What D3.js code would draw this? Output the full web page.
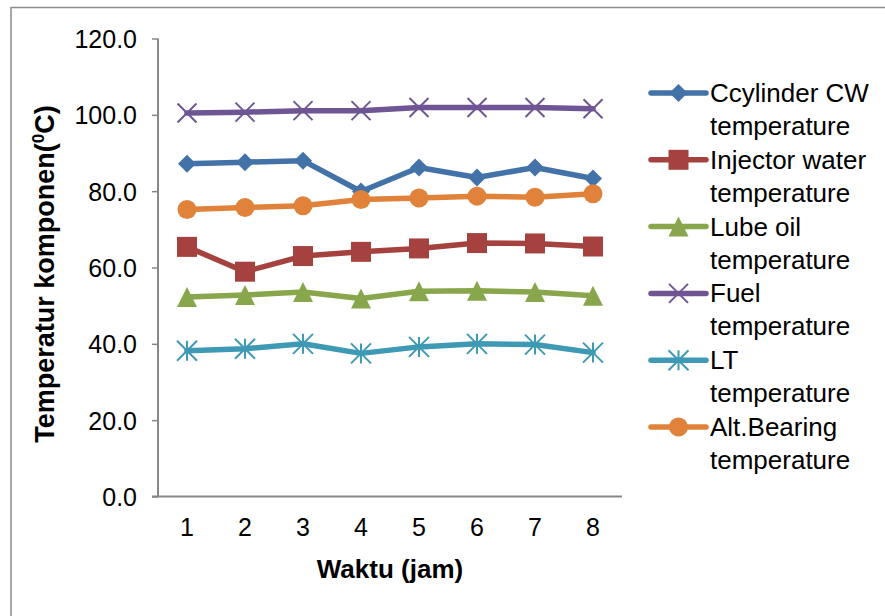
<!DOCTYPE html>
<html>
<head>
<meta charset="utf-8">
<script src="https://cdn.jsdelivr.net/npm/d3@7"></script>
<style>
  body { margin: 0; background: #fff; }
  text { font-family: "Liberation Sans", Arial, sans-serif; fill: #000; }
</style>
</head>
<body>
<script>
const hours = [1, 2, 3, 4, 5, 6, 7, 8];
const yTicks = [0, 20, 40, 60, 80, 100, 120];

const cylinderCW = [87.2, 87.6, 88.0, 79.9, 86.2, 83.6, 86.2, 83.3];
const injectorWater = [65.4, 58.9, 63.0, 64.1, 65.0, 66.4, 66.3, 65.5];
const lubeOil = [52.3, 52.8, 53.6, 51.9, 53.8, 53.9, 53.6, 52.6];
const fuel = [100.5, 100.7, 101.1, 101.1, 101.9, 101.9, 101.9, 101.6];
const ltTemp = [38.2, 38.7, 40.0, 37.5, 39.2, 40.0, 39.8, 37.7];
const altBearing = [75.2, 75.7, 76.2, 77.8, 78.2, 78.7, 78.4, 79.3];

const seriesNames = [
    ["Ccylinder CW", "temperature"],
    ["Injector water", "temperature"],
    ["Lube oil", "temperature"],
    ["Fuel", "temperature"],
    ["LT", "temperature"],
    ["Alt.Bearing", "temperature"]
];
const seriesColors = ["#4372a8", "#a5423f", "#88a64b", "#6f5593", "#3e99b4", "#e0823a"];
const seriesMarkers = ["diamond", "square", "triangle", "x", "star", "circle"];
const seriesValues = [cylinderCW, injectorWater, lubeOil, fuel, ltTemp, altBearing];

const width = 885, height = 616;
const svg = d3.select("body").append("svg").attr("width", width).attr("height", height);

// outer chart border (runs off the right/bottom of the picture)
svg.append("rect")
    .attr("x", 11).attr("y", 7.5)
    .attr("width", 900).attr("height", 640)
    .attr("fill", "none").attr("stroke", "#8c8c8c").attr("stroke-width", 1.5);

const x = d3.scaleBand().domain(hours).range([158, 622]);
const y = d3.scaleLinear().domain([0, 120]).range([496.5, 38.5]);
const cx = d => x(d) + x.bandwidth() / 2;

// y axis
const yAxis = svg.append("g")
    .attr("transform", "translate(158,0)")
    .call(d3.axisLeft(y).tickValues(yTicks).tickSize(6).tickPadding(15).tickFormat(d3.format(".1f")));
yAxis.selectAll("text").attr("font-size", 25).style("font-family", "Liberation Sans, Arial, sans-serif").attr("dy", "0.36em");
yAxis.selectAll("line").attr("stroke", "#888").attr("stroke-width", 1.5);
yAxis.select(".domain").attr("stroke", "#888").attr("stroke-width", 2).attr("d", "M0,38.5V496.5");

// x axis
const xAxis = svg.append("g")
    .attr("transform", "translate(0,496.5)")
    .call(d3.axisBottom(x).tickSize(0).tickPadding(22));
xAxis.selectAll("text").attr("font-size", 25).style("font-family", "Liberation Sans, Arial, sans-serif");
xAxis.select(".domain").attr("stroke", "#888").attr("stroke-width", 2).attr("d", "M152,0H622");

// axis titles
svg.append("text")
    .attr("x", 390).attr("y", 578)
    .attr("text-anchor", "middle")
    .attr("font-size", 26).attr("font-weight", "bold")
    .text("Waktu (jam)");

const yTitle = svg.append("text")
    .attr("transform", "translate(54,274) rotate(-90)")
    .attr("text-anchor", "middle")
    .attr("font-size", 27).attr("font-weight", "bold");
yTitle.append("tspan").text("Temperatur komponen(");
yTitle.append("tspan").attr("font-size", 17).attr("dy", -10).text("0");
yTitle.append("tspan").attr("dy", 10).text("C)");

function markerPath(kind, s) {
    const h = s / 2;
    switch (kind) {
        case "diamond": return `M0,${-h}L${h},0L0,${h}L${-h},0Z`;
        case "square": return `M${-h},${-h}H${h}V${h}H${-h}Z`;
        case "triangle": return `M0,${-h}L${h},${h}H${-h}Z`;
        case "x": return `M${-h},${-h}L${h},${h}M${h},${-h}L${-h},${h}`;
        case "star": return `M${-h},${-h}L${h},${h}M${h},${-h}L${-h},${h}M0,${-h}V${h}`;
        case "circle": return d3.arc()({innerRadius: 0, outerRadius: h, startAngle: 0, endAngle: 2 * Math.PI});
    }
}
const markerSize = {diamond: 18, square: 20, triangle: 20, x: 19, star: 20, circle: 19};

function drawMarker(g, kind, color) {
    const p = g.append("path").attr("d", markerPath(kind, markerSize[kind]));
    if (kind === "x" || kind === "star") {
        p.attr("fill", "none").attr("stroke", color).attr("stroke-width", 2);
    } else {
        p.attr("fill", color);
    }
}

const line = d3.line().x((d, i) => cx(hours[i])).y(d => y(d));

// draw order like Excel: first series at bottom
seriesValues.forEach((vals, si) => {
    const g = svg.append("g");
    g.append("path")
        .datum(vals)
        .attr("d", line)
        .attr("fill", "none")
        .attr("stroke", seriesColors[si])
        .attr("stroke-width", 5.5)
        .attr("stroke-linejoin", "round")
        .attr("stroke-linecap", "round");
    vals.forEach((v, i) => {
        const m = g.append("g").attr("transform", `translate(${cx(hours[i])},${y(v)})`);
        drawMarker(m, seriesMarkers[si], seriesColors[si]);
    });
});

// legend
const legend = svg.append("g").attr("transform", "translate(651,93)");
seriesNames.forEach((name, si) => {
    const row = legend.append("g").attr("transform", `translate(0,${si * 66.8})`);
    row.append("line")
        .attr("x1", 0).attr("x2", 55)
        .attr("stroke", seriesColors[si]).attr("stroke-width", 5.5)
        .attr("stroke-linecap", "round");
    const m = row.append("g").attr("transform", "translate(27.5,0)");
    drawMarker(m, seriesMarkers[si], seriesColors[si]);
    name.forEach((ln, li) => {
        row.append("text")
            .attr("x", 59).attr("y", 9 + li * 33)
            .attr("font-size", 26)
            .text(ln);
    });
});
</script>
</body>
</html>
